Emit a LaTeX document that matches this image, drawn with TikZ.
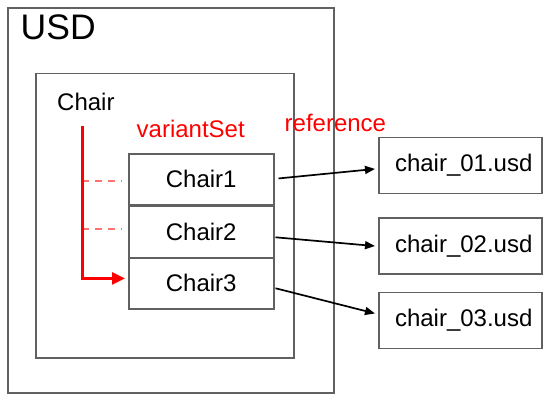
\documentclass[tikz,border=0pt]{standalone}
\usepackage{fontspec}
\setmainfont{Liberation Sans}
\usetikzlibrary{arrows.meta}
\begin{document}
\begin{tikzpicture}[x=1pt,y=-1pt,
  frame/.style={draw=black!62,line width=1.5pt,inner sep=0pt,anchor=north west},
  chairbox/.style={frame,minimum width=145pt,font=\fontsize{24}{28}\selectfont},
  filebox/.style={frame,minimum width=163pt,minimum height=56pt,font=\fontsize{24}{28}\selectfont},
  lbl/.style={inner sep=0pt,anchor=base west,font=\fontsize{24}{28}\selectfont},
  redlbl/.style={lbl,text=red},
  refarrow/.style={line width=1.7pt,-{Triangle[length=10pt,width=8pt]}},
  redline/.style={draw=red,line width=2.7pt,-{Triangle[length=13pt,width=12pt]}},
  dashline/.style={draw=red!55,line width=1.5pt,dash pattern=on 7pt off 6pt}]
\useasboundingbox[fill=white] (0,0) rectangle (550,400);
% containers
\node[frame,minimum width=326pt,minimum height=385pt] (usd) at (7,7) {};
\node[frame,minimum width=258pt,minimum height=284.5pt] (prim) at (35,72.5) {};
% labels
\node[lbl,font=\fontsize{35.5}{40}\selectfont] (usdlbl) at (20.5,39.3) {USD};
\node[lbl] (chair) at (57,110) {Chair};
\node[redlbl] (vset) at (136.5,137.3) {variantSet};
\node[redlbl] (ref) at (284.5,131.7) {reference};
% variants
\node[chairbox,minimum height=51pt] (c1) at (128,153) {Chair1};
\node[chairbox,minimum height=51.7pt] (c2) at (128,205) {Chair2};
\node[chairbox,minimum height=51pt] (c3) at (128,257) {Chair3};
% files
\node[filebox] (f1) at (378,136.7) {\hspace*{7pt}chair\_01.usd};
\node[filebox] (f2) at (378,217.3) {\hspace*{7pt}chair\_02.usd};
\node[filebox] (f3) at (378,291.7) {\hspace*{7pt}chair\_03.usd};
% variant selection line
\coordinate (rtop) at ([shift={(-3.7,16)}]chair.base);
\coordinate (d1) at ([shift={(-6,1.5)}]c1.west);
\coordinate (d2) at ([shift={(-6,-2.5)}]c2.west);
\draw[dashline] (rtop |- d1) -- (d1);
\draw[dashline] (rtop |- d2) -- (d2);
\draw[redline] (rtop) |- ([shift={(-3,-4.8)}]c3.west);
% references
\draw[refarrow] ([shift={(4,-0.8)}]c1.east) -- ([shift={(-3,3.5)}]f1.west);
\draw[refarrow] ([shift={(1,5.7)}]c2.east) -- ([shift={(-3,0)}]f2.west);
\draw[refarrow] ([shift={(1,5)}]c3.east) -- ([shift={(-3,-7)}]f3.west);
\end{tikzpicture}
\end{document}
